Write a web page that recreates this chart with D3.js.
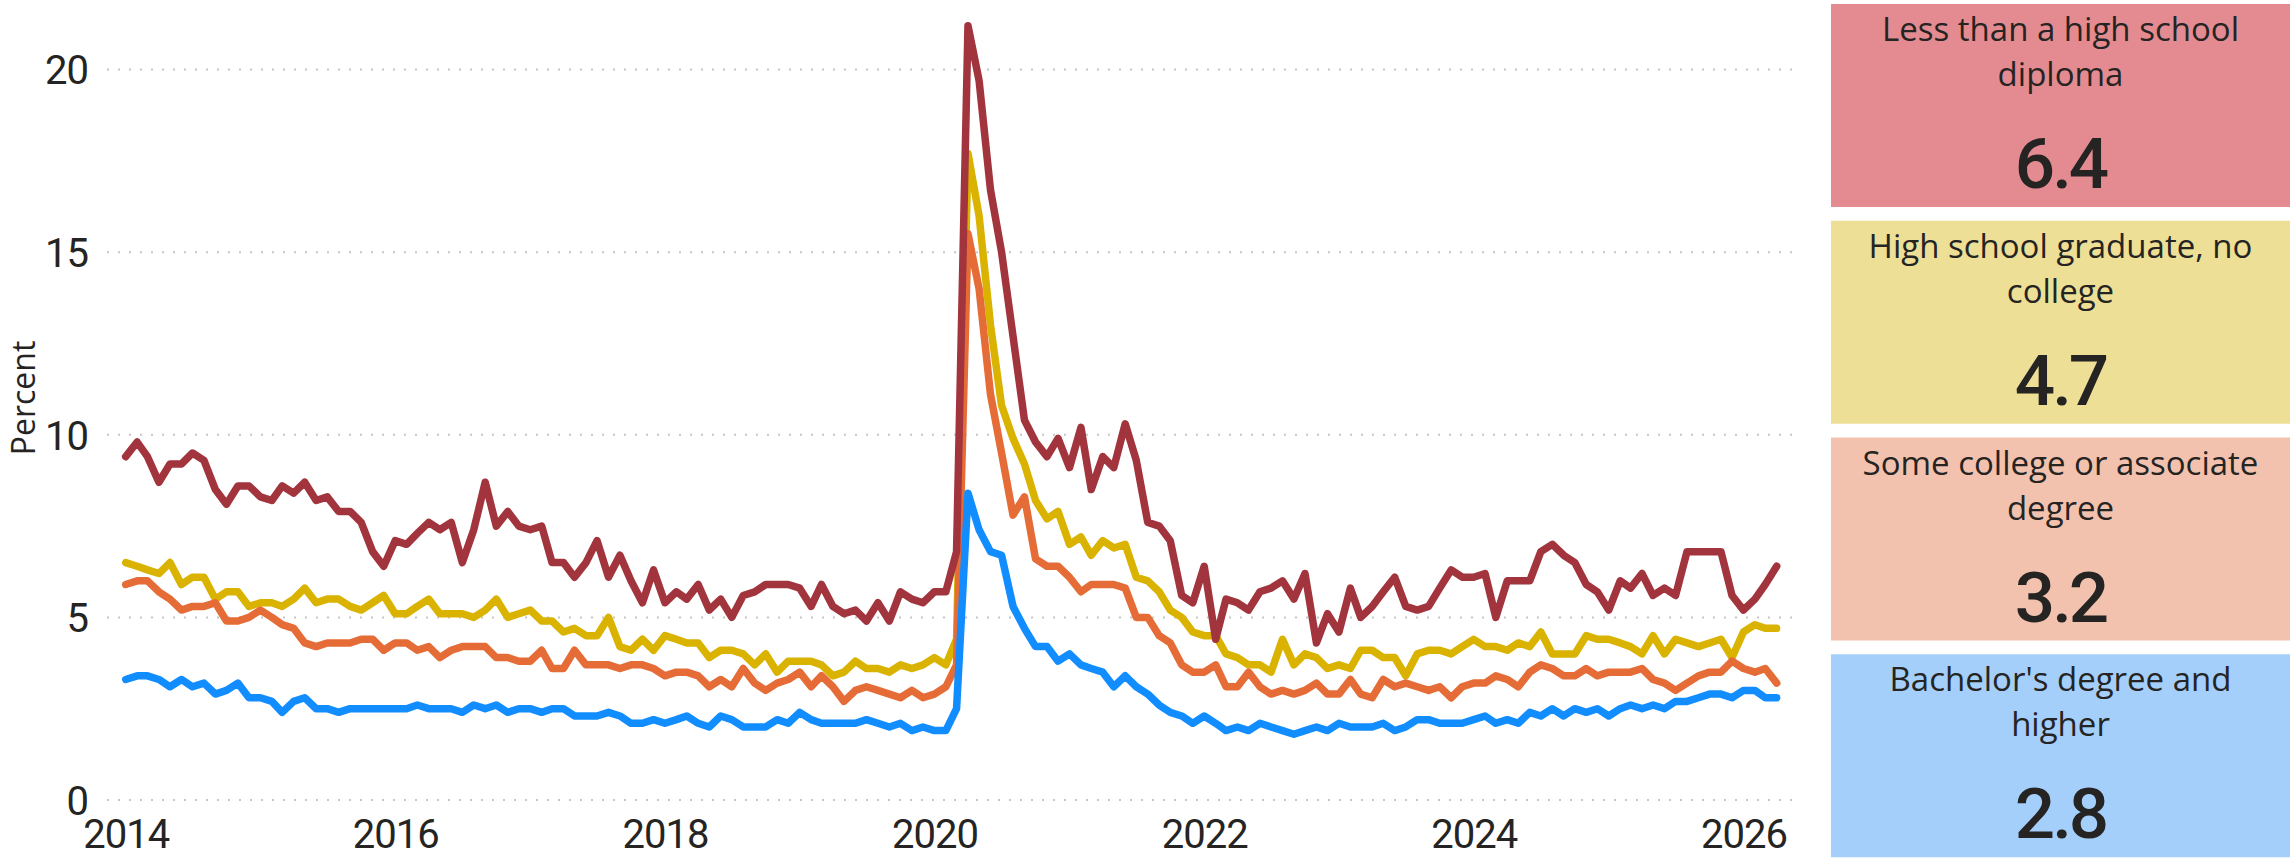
<!DOCTYPE html>
<html>
<head>
<meta charset="utf-8">
<script src="https://cdn.jsdelivr.net/npm/d3@7"></script>
<style>
  body { margin: 0; background: #ffffff; }
  svg { display: block; }
  .axis-label { font-family: Roboto, "DejaVu Sans", sans-serif; font-size: 40px; fill: #252423; letter-spacing: -1px; }
  .axis-title { font-family: "Open Sans", "Noto Sans", sans-serif; font-size: 32px; fill: #252423; }
  .card-title { font-family: "Open Sans", "Noto Sans", sans-serif; font-size: 33px; fill: #252423; }
  .card-value { font-family: Roboto, "DejaVu Sans", sans-serif; font-size: 71px; font-weight: 500; fill: #252423; letter-spacing: -3px; }
</style>
</head>
<body>
<svg id="chart" width="2290" height="858"></svg>
<script>
"use strict";

// first month of the monthly series
var startMonth = new Date(2014, 0, 1);

// unemployment rate, percent (Jan 2014 .. Apr 2026)
var lessThanHS = [
  9.4, 9.8, 9.4, 8.7, 9.2, 9.2, 9.5, 9.3, 8.5, 8.1, 8.6, 8.6,
  8.3, 8.2, 8.6, 8.4, 8.7, 8.2, 8.3, 7.9, 7.9, 7.6, 6.8, 6.4,
  7.1, 7.0, 7.3, 7.6, 7.4, 7.6, 6.5, 7.4, 8.7, 7.5, 7.9, 7.5,
  7.4, 7.5, 6.5, 6.5, 6.1, 6.5, 7.1, 6.1, 6.7, 6.0, 5.4, 6.3,
  5.4, 5.7, 5.5, 5.9, 5.2, 5.5, 5.0, 5.6, 5.7, 5.9, 5.9, 5.9,
  5.8, 5.3, 5.9, 5.3, 5.1, 5.2, 4.9, 5.4, 4.9, 5.7, 5.5, 5.4,
  5.7, 5.7, 6.8, 21.2, 19.7, 16.7, 15.0, 12.7, 10.4, 9.8, 9.4, 9.9,
  9.1, 10.2, 8.5, 9.4, 9.1, 10.3, 9.3, 7.6, 7.5, 7.1, 5.6, 5.4,
  6.4, 4.4, 5.5, 5.4, 5.2, 5.7, 5.8, 6.0, 5.5, 6.2, 4.3, 5.1,
  4.6, 5.8, 5.0, 5.3, 5.7, 6.1, 5.3, 5.2, 5.3, 5.8, 6.3, 6.1,
  6.1, 6.2, 5.0, 6.0, 6.0, 6.0, 6.8, 7.0, 6.7, 6.5, 5.9, 5.7,
  5.2, 6.0, 5.8, 6.2, 5.6, 5.8, 5.6, 6.8, 6.8, 6.8, 6.8, 5.6,
  5.2, 5.5, 5.9, 6.4
];
var hsGraduate = [
  6.5, 6.4, 6.3, 6.2, 6.5, 5.9, 6.1, 6.1, 5.5, 5.7, 5.7, 5.3,
  5.4, 5.4, 5.3, 5.5, 5.8, 5.4, 5.5, 5.5, 5.3, 5.2, 5.4, 5.6,
  5.1, 5.1, 5.3, 5.5, 5.1, 5.1, 5.1, 5.0, 5.2, 5.5, 5.0, 5.1,
  5.2, 4.9, 4.9, 4.6, 4.7, 4.5, 4.5, 5.0, 4.2, 4.1, 4.4, 4.1,
  4.5, 4.4, 4.3, 4.3, 3.9, 4.1, 4.1, 4.0, 3.7, 4.0, 3.5, 3.8,
  3.8, 3.8, 3.7, 3.4, 3.5, 3.8, 3.6, 3.6, 3.5, 3.7, 3.6, 3.7,
  3.9, 3.7, 4.4, 17.7, 16.0, 13.0, 10.8, 9.9, 9.2, 8.2, 7.7, 7.9,
  7.0, 7.2, 6.7, 7.1, 6.9, 7.0, 6.1, 6.0, 5.7, 5.2, 5.0, 4.6,
  4.5, 4.5, 4.0, 3.9, 3.7, 3.7, 3.5, 4.4, 3.7, 4.0, 3.9, 3.6,
  3.7, 3.6, 4.1, 4.1, 3.9, 3.9, 3.4, 4.0, 4.1, 4.1, 4.0, 4.2,
  4.4, 4.2, 4.2, 4.1, 4.3, 4.2, 4.6, 4.0, 4.0, 4.0, 4.5, 4.4,
  4.4, 4.3, 4.2, 4.0, 4.5, 4.0, 4.4, 4.3, 4.2, 4.3, 4.4, 3.9,
  4.6, 4.8, 4.7, 4.7
];
var someCollege = [
  5.9, 6.0, 6.0, 5.7, 5.5, 5.2, 5.3, 5.3, 5.4, 4.9, 4.9, 5.0,
  5.2, 5.0, 4.8, 4.7, 4.3, 4.2, 4.3, 4.3, 4.3, 4.4, 4.4, 4.1,
  4.3, 4.3, 4.1, 4.2, 3.9, 4.1, 4.2, 4.2, 4.2, 3.9, 3.9, 3.8,
  3.8, 4.1, 3.6, 3.6, 4.1, 3.7, 3.7, 3.7, 3.6, 3.7, 3.7, 3.6,
  3.4, 3.5, 3.5, 3.4, 3.1, 3.3, 3.1, 3.6, 3.2, 3.0, 3.2, 3.3,
  3.5, 3.1, 3.4, 3.1, 2.7, 3.0, 3.1, 3.0, 2.9, 2.8, 3.0, 2.8,
  2.9, 3.1, 3.7, 15.5, 14.0, 11.1, 9.5, 7.8, 8.3, 6.6, 6.4, 6.4,
  6.1, 5.7, 5.9, 5.9, 5.9, 5.8, 5.0, 5.0, 4.5, 4.3, 3.7, 3.5,
  3.5, 3.7, 3.1, 3.1, 3.5, 3.1, 2.9, 3.0, 2.9, 3.0, 3.2, 2.9,
  2.9, 3.3, 2.9, 2.8, 3.3, 3.1, 3.2, 3.1, 3.0, 3.1, 2.8, 3.1,
  3.2, 3.2, 3.4, 3.3, 3.1, 3.5, 3.7, 3.6, 3.4, 3.4, 3.6, 3.4,
  3.5, 3.5, 3.5, 3.6, 3.3, 3.2, 3.0, 3.2, 3.4, 3.5, 3.5, 3.8,
  3.6, 3.5, 3.6, 3.2
];
var bachelors = [
  3.3, 3.4, 3.4, 3.3, 3.1, 3.3, 3.1, 3.2, 2.9, 3.0, 3.2, 2.8,
  2.8, 2.7, 2.4, 2.7, 2.8, 2.5, 2.5, 2.4, 2.5, 2.5, 2.5, 2.5,
  2.5, 2.5, 2.6, 2.5, 2.5, 2.5, 2.4, 2.6, 2.5, 2.6, 2.4, 2.5,
  2.5, 2.4, 2.5, 2.5, 2.3, 2.3, 2.3, 2.4, 2.3, 2.1, 2.1, 2.2,
  2.1, 2.2, 2.3, 2.1, 2.0, 2.3, 2.2, 2.0, 2.0, 2.0, 2.2, 2.1,
  2.4, 2.2, 2.1, 2.1, 2.1, 2.1, 2.2, 2.1, 2.0, 2.1, 1.9, 2.0,
  1.9, 1.9, 2.5, 8.4, 7.4, 6.8, 6.7, 5.3, 4.7, 4.2, 4.2, 3.8,
  4.0, 3.7, 3.6, 3.5, 3.1, 3.4, 3.1, 2.9, 2.6, 2.4, 2.3, 2.1,
  2.3, 2.1, 1.9, 2.0, 1.9, 2.1, 2.0, 1.9, 1.8, 1.9, 2.0, 1.9,
  2.1, 2.0, 2.0, 2.0, 2.1, 1.9, 2.0, 2.2, 2.2, 2.1, 2.1, 2.1,
  2.2, 2.3, 2.1, 2.2, 2.1, 2.4, 2.3, 2.5, 2.3, 2.5, 2.4, 2.5,
  2.3, 2.5, 2.6, 2.5, 2.6, 2.5, 2.7, 2.7, 2.8, 2.9, 2.9, 2.8,
  3.0, 3.0, 2.8, 2.8
];

// card titles (already wrapped like the report)
var cardTitles = [
  ["Less than a high school", "diploma"],
  ["High school graduate, no", "college"],
  ["Some college or associate", "degree"],
  ["Bachelor's degree and", "higher"]
];

// axis ticks
var yTicks = [0, 5, 10, 15, 20];
var xTickYears = [2014, 2016, 2018, 2020, 2022, 2024, 2026];

var lineColors = ["#A1343C", "#D9B300", "#E66C37", "#118DFF"];
var cardColors = ["#E48B92", "#EEDF96", "#F3C2AE", "#A4CFFB"];

var seriesValues = [lessThanHS, hsGraduate, someCollege, bachelors];
var months = seriesValues[0].map(function(d, i) { return d3.timeMonth.offset(startMonth, i); });

var svg = d3.select("#chart");

var xScale = d3.scaleTime()
    .domain([months[0], months[months.length - 1]])
    .range([125.7, 1776.7]);

var yScale = d3.scaleLinear()
    .domain([0, 20])
    .range([800, 69.5]);

// dotted gridlines
svg.append("g")
    .selectAll("line")
    .data(yTicks)
    .enter().append("line")
    .attr("x1", 107)
    .attr("x2", 1793)
    .attr("y1", function(d) { return yScale(d); })
    .attr("y2", function(d) { return yScale(d); })
    .attr("stroke", "#c8c6c4")
    .attr("stroke-width", 2)
    .attr("stroke-dasharray", "2 9");

// y axis labels
var yAxis = d3.axisLeft(yScale).tickValues(yTicks).tickSize(0).tickPadding(0);
svg.append("g")
    .attr("transform", "translate(88,0)")
    .call(yAxis)
    .call(function(g) { g.select(".domain").remove(); })
    .selectAll("text")
    .attr("class", "axis-label")
    .attr("font-size", null)
    .attr("font-family", null)
    .attr("fill", null)
    .attr("dy", "0.36em");

// x axis labels
var xAxis = d3.axisBottom(xScale)
    .tickValues(xTickYears.map(function(y) { return new Date(y, 0, 1); }))
    .tickFormat(d3.timeFormat("%Y"))
    .tickSize(0)
    .tickPadding(0);
svg.append("g")
    .attr("transform", "translate(0,820)")
    .call(xAxis)
    .call(function(g) { g.select(".domain").remove(); })
    .selectAll("text")
    .attr("class", "axis-label")
    .attr("font-size", null)
    .attr("font-family", null)
    .attr("fill", null)
    .attr("dy", "0.71em");

// y axis title
svg.append("text")
    .attr("class", "axis-title")
    .attr("transform", "translate(35,398) rotate(-90)")
    .attr("text-anchor", "middle")
    .text("Percent");

// lines (draw order so that red sits on top)
var line = d3.line()
    .x(function(d, i) { return xScale(months[i]); })
    .y(function(d) { return yScale(d); });

var drawOrder = [1, 2, 3, 0];
svg.append("g")
    .selectAll("path")
    .data(drawOrder)
    .enter().append("path")
    .attr("d", function(k) { return line(seriesValues[k]); })
    .attr("fill", "none")
    .attr("stroke", function(k) { return lineColors[k]; })
    .attr("stroke-width", 7.5)
    .attr("stroke-linejoin", "round")
    .attr("stroke-linecap", "round");

// cards on the right
var cardScale = d3.scaleBand()
    .domain(d3.range(cardTitles.length))
    .range([4, 871])
    .paddingInner(0);

var cards = svg.append("g")
    .selectAll("g")
    .data(cardTitles)
    .enter().append("g")
    .attr("transform", function(d, i) { return "translate(1831," + cardScale(i) + ")"; });

cards.append("rect")
    .attr("width", 459)
    .attr("height", 203)
    .attr("fill", function(d, i) { return cardColors[i]; });

cards.each(function(d) {
    var g = d3.select(this);
    d.forEach(function(t, j) {
        g.append("text")
            .attr("class", "card-title")
            .attr("x", 229.5)
            .attr("y", 37 + j * 45)
            .attr("text-anchor", "middle")
            .text(t);
    });
});

cards.append("text")
    .attr("class", "card-value")
    .attr("x", 229.5)
    .attr("y", 184)
    .attr("text-anchor", "middle")
    .text(function(d, i) {
        var s = seriesValues[i];
        return d3.format(".1f")(s[s.length - 1]);
    });
</script>
</body>
</html>
